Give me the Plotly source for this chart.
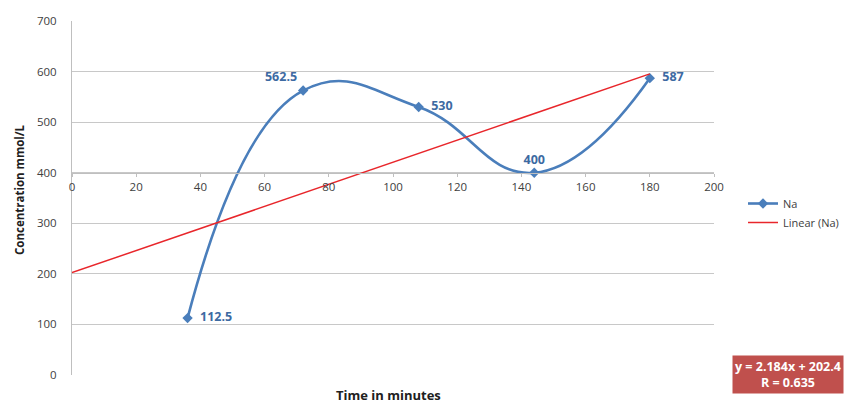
import plotly.graph_objects as go

time_min = [36, 72, 108, 144, 180]
na_conc = [112.5, 562.5, 530, 400, 587]
na_labels = ["  112.5", "562.5", "  530", "400", "  587"]
label_pos = ["middle right", "top left", "middle right", "top center", "middle right"]

trend_slope = 2.184
trend_intercept = 202.4
r_value = 0.635
trend_x = [0, 180]
trend_y = [trend_intercept + trend_slope * v for v in trend_x]

FONT = "Open Sans, Liberation Sans, sans-serif"
BLUE = "#4A7EBB"

fig = go.Figure()
fig.add_trace(go.Scatter(
    x=time_min, y=na_conc, name="Na",
    mode="lines+markers+text",
    line=dict(color=BLUE, width=2.6, shape="spline", smoothing=1.3),
    marker=dict(symbol="diamond", size=8, color=BLUE),
    text=na_labels, textposition=label_pos,
    textfont=dict(family=FONT, size=12.5, color="#3D6AA2", weight="bold"),
    cliponaxis=False,
))
fig.add_trace(go.Scatter(
    x=trend_x, y=trend_y, name="Linear (Na)", mode="lines",
    line=dict(color="#E8262B", width=1.5),
))

L, R, T, B = 72, 130, 21, 28
W, H = 844, 403
pw, ph = W - L - R, H - T - B


def px_x(v):
    return (v - L) / pw


def px_y(v):
    return (H - B - v) / ph


fig.update_layout(
    width=W, height=H,
    margin=dict(l=L, r=R, t=T, b=B, autoexpand=False),
    paper_bgcolor="white", plot_bgcolor="white",
    font=dict(family=FONT, size=11, color="#404040"),
    showlegend=True,
    legend=dict(x=px_x(743), y=px_y(189), xanchor="left", yanchor="top",
                font=dict(size=11, color="#404040"), bgcolor="rgba(0,0,0,0)",
                itemwidth=30),
    xaxis=dict(range=[0, 200], dtick=20, tick0=0, showgrid=False,
               anchor="free", position=4/7, showline=True,
               linecolor="#BFBFBF", linewidth=1, zeroline=False,
               ticks="outside", ticklen=3, tickcolor="#BFBFBF",
               tickfont=dict(size=11.5, color="#404040")),
    yaxis=dict(range=[0, 700], dtick=100, showgrid=True, gridcolor="#C8C8C8",
               gridwidth=1, showline=True, linecolor="#BFBFBF", zeroline=False,
               tickfont=dict(size=11.5, color="#404040"), ticks="", ticklabelstandoff=12),
    annotations=[
        dict(text="<b>Time in minutes</b>", x=px_x(388), y=px_y(395),
             xref="paper", yref="paper", xanchor="center", yanchor="middle",
             showarrow=False, font=dict(size=13, color="#202020")),
        dict(text="<b>Concentration mmol/L</b>", x=px_x(19), y=px_y(190),
             xref="paper", yref="paper", xanchor="center", yanchor="middle",
             textangle=-90, showarrow=False, font=dict(size=11.5, color="#202020")),
        dict(text="<b>y = %.3fx + %.1f<br>R = %.3f</b>" % (trend_slope, trend_intercept, r_value),
             x=px_x(844), y=px_y(355), xref="paper", yref="paper",
             xanchor="right", yanchor="top",
             showarrow=False, bgcolor="#C0504D", font=dict(size=12.5, color="white"),
             align="center", borderpad=2),
    ],
)

fig.write_html("out.html")
